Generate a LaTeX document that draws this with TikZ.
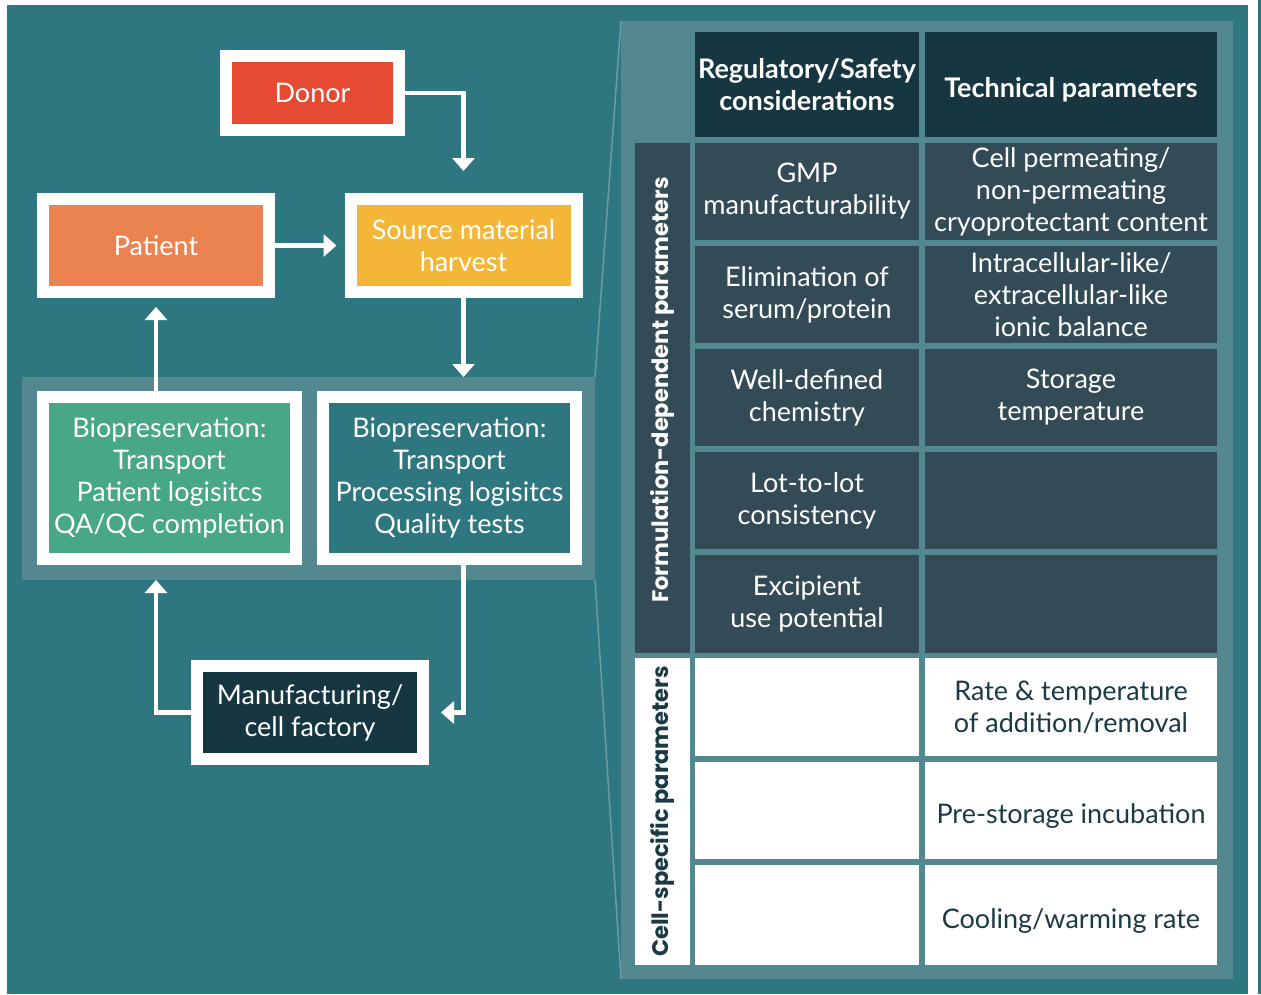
\documentclass[tikz,border=0pt]{standalone}
\usepackage{fontspec}
\setmainfont{Lato}
\newfontfamily\sidefont{Poppins}
\usetikzlibrary{arrows.meta,positioning}

\definecolor{bgteal}{HTML}{2E7780}
\definecolor{panellight}{HTML}{538890}
\definecolor{edgelight}{HTML}{6C9CA3}
\definecolor{headdark}{HTML}{163641}
\definecolor{celldark}{HTML}{334B56}
\definecolor{donorred}{HTML}{E64A32}
\definecolor{patientorange}{HTML}{EB8351}
\definecolor{sourceyellow}{HTML}{F4B639}
\definecolor{biogreen}{HTML}{48A787}
\definecolor{inkdark}{HTML}{1B3A45}

\begin{document}
\begin{tikzpicture}[x=1pt,y=-1pt,>={Triangle[width=22pt,length=13pt]},
  flowbox/.style={draw=white,line width=12pt,text=white,align=center,inner sep=0pt,font=\fontsize{27}{32}\selectfont},
  flow/.style={draw=white,line width=4.5pt},
  cell/.style={anchor=north west,inner sep=0pt,outer sep=0pt,align=center,font=\fontsize{27}{32}\selectfont,
    execute at begin node={\rule{0pt}{31pt}}},
  headcell/.style={cell,fill=headdark,text=white,minimum height=105pt,font=\fontsize{27}{32}\selectfont\bfseries},
  darkcell/.style={cell,fill=celldark,text=white,minimum height=97pt},
  whitecell/.style={cell,fill=white,text=inkdark},
  sidelabel/.style={rotate=90,font=\sidefont\bfseries\fontsize{22.5}{26}\selectfont}]
\useasboundingbox (0,0) rectangle (1261,994);
\fill[bgteal] (7,5) rectangle (1248,994);
\fill[bgteal] (1258,0) rectangle (1261,994);

% flow chart
\node[anchor=north west,fill=panellight,inner sep=0pt,outer sep=0pt,minimum width=573pt,minimum height=203pt] (band) at (22,377) {};
\node[flowbox,fill=donorred,minimum width=173pt,minimum height=74pt] (donor) at (312.5,93) {Donor};
\node[flowbox,fill=patientorange,minimum width=226pt,minimum height=93pt] (patient) at (156,245.5) {Patient};
\node[flowbox,fill=sourceyellow,minimum width=226pt,minimum height=93pt] (source) at (463.5,245.5) {Source material\\harvest};
\node[flowbox,fill=biogreen,minimum width=253pt,minimum height=162pt] (bioL) at (169.5,478) {Biopreservation:\\Transport\\Patient logisitcs\\QA/QC completion};
\node[flowbox,fill=bgteal,minimum width=253pt,minimum height=162pt] (bioR) at (449.5,478) {Biopreservation:\\Transport\\Processing logisitcs\\Quality tests};
\node[flowbox,fill=headdark,minimum width=226pt,minimum height=93pt] (mfg) at (310,712.5) {Manufacturing/\\cell factory};

\draw[flow,->] (donor.east) -| ([yshift=22pt]source.north);
\draw[flow,->] (patient.east) -- ([xshift=-8pt]source.west);
\draw[flow,->] (source.south) -- (source.south |- band.north);
\draw[flow,<-] ([yshift=-9pt]patient.south) -- (patient.south |- bioL.north);
\draw[flow,->] (source.south |- bioR.south) |- ([xshift=12pt]mfg.east);
\draw[flow,->] (mfg.west) -| (patient.south |- band.south);

% parameter table
\node[anchor=north west,fill=panellight,inner sep=0pt,outer sep=0pt,minimum width=612pt,minimum height=958pt] (panel) at (621,21) {};
\draw[edgelight,line width=1.5pt] (band.north east) -- (panel.north west);
\draw[edgelight,line width=1.5pt] (band.south east) -- (panel.south west);

\node[headcell,minimum width=224pt] (hreg) at (695,32) {Regulatory/Safety\\considerations};
\node[headcell,minimum width=292pt] (htech) at (925,32) {Technical parameters};

\node[cell,fill=celldark,minimum width=55pt,minimum height=510pt] (lform) at (635,143) {};
\node[sidelabel,text=white] (tform) at ([yshift=8pt]lform.center) {Formulation-dependent parameters};
\node[cell,fill=white,minimum width=55pt,minimum height=307pt] (lcell) at (635,658) {};
\node[sidelabel,text=inkdark] (tcell) at (lcell.center) {Cell-specific parameters};

\node[darkcell,minimum width=224pt] (f1a) at (695,143) {GMP\\manufacturability};
\node[darkcell,minimum width=292pt] (f1b) at (925,143) {Cell permeating/\\non-permeating\\cryoprotectant content};
\node[darkcell,minimum width=224pt] (f2a) at (695,246) {Elimination of\\serum/protein};
\node[darkcell,minimum width=292pt] (f2b) at (925,246) {Intracellular-like/\\extracellular-like\\ionic balance};
\node[darkcell,minimum width=224pt] (f3a) at (695,349) {Well-defined\\chemistry};
\node[darkcell,minimum width=292pt] (f3b) at (925,349) {Storage\\temperature};
\node[darkcell,minimum width=224pt] (f4a) at (695,452) {Lot-to-lot\\consistency};
\node[darkcell,minimum width=292pt] (f4b) at (925,452) {};
\node[darkcell,minimum width=224pt,minimum height=98pt] (f5a) at (695,555) {Excipient\\use potential};
\node[darkcell,minimum width=292pt,minimum height=98pt] (f5b) at (925,555) {};

\node[whitecell,minimum width=224pt,minimum height=98pt] (c1a) at (695,658) {};
\node[whitecell,minimum width=292pt,minimum height=98pt] (c1b) at (925,658) {Rate \& temperature\\of addition/removal};
\node[whitecell,minimum width=224pt,minimum height=97pt] (c2a) at (695,762) {};
\node[whitecell,minimum width=292pt,minimum height=97pt] (c2b) at (925,762) {Pre-storage incubation};
\node[whitecell,minimum width=224pt,minimum height=100pt] (c3a) at (695,865) {};
\node[whitecell,minimum width=292pt,minimum height=100pt] (c3b) at (925,865) {Cooling/warming rate};
\end{tikzpicture}
\end{document}
